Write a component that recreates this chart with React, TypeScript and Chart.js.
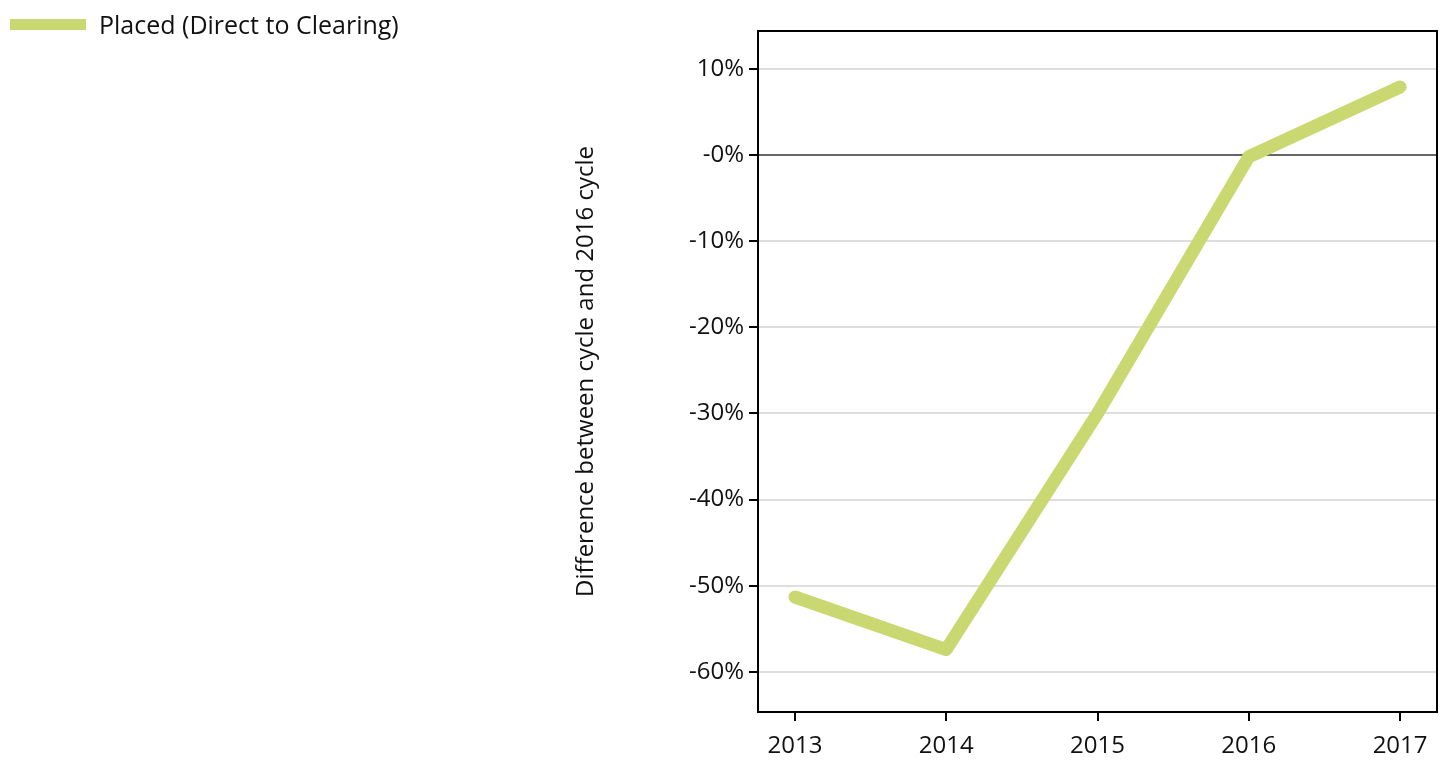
import React, { useEffect, useRef } from "react";
import { Chart, registerables } from "chart.js";
Chart.register(...registerables);

const years = [2013, 2014, 2015, 2016, 2017];
const placedDiff = [-51.3, -57.4, -30.0, -0.2, 7.9];
const yTicks = [10, 0, -10, -20, -30, -40, -50, -60];
const seriesLabel = "Placed (Direct to Clearing)";
const yTitle = "Difference between cycle and 2016 cycle";
const lineColor = "#cad872";
const FONT = "'Open Sans', sans-serif";
const FS = 24;

const boxPlugin = {
  id: "box",
  afterDraw(chart: any) {
    const { ctx, chartArea: a } = chart;
    ctx.save();
    ctx.strokeStyle = "#000";
    ctx.lineWidth = 2;
    ctx.strokeRect(a.left, a.top, a.right - a.left, a.bottom - a.top);
    ctx.restore();
  },
};

export default function App() {
  const ref = useRef<HTMLCanvasElement>(null);
  useEffect(() => {
    const chart = new Chart(ref.current!, {
      type: "line",
      data: {
        datasets: [
          {
            label: seriesLabel,
            data: years.map((y, i) => ({ x: y, y: placedDiff[i] })),
            borderColor: lineColor,
            borderWidth: 13,
            borderCapStyle: "round",
            borderJoinStyle: "round",
            pointRadius: 0,
            tension: 0,
          },
        ],
      },
      plugins: [boxPlugin],
      options: {
        animation: false,
        responsive: false,
        layout: { padding: { left: 572, top: 31, right: 4, bottom: 0 } },
        plugins: { legend: { display: false }, tooltip: { enabled: false } },
        scales: {
          x: {
            type: "linear",
            min: 2012.756,
            max: 2017.244,
            afterBuildTicks: (s: any) => {
              s.ticks = years.map((v) => ({ value: v }));
            },
            afterFit: (s: any) => {
              s.height = 50;
            },
            border: { display: false },
            grid: { drawOnChartArea: false, tickLength: 9, tickColor: "#000", lineWidth: 2 },
            ticks: { color: "#111", font: { family: FONT, size: FS }, padding: 11, callback: (v: any) => String(v) },
          },
          y: {
            min: -64.65,
            max: 14.4,
            afterBuildTicks: (s: any) => {
              s.ticks = yTicks.map((v) => ({ value: v }));
            },
            afterFit: (s: any) => {
              s.width = 186;
            },
            border: { display: false },
            grid: {
              tickLength: 9,
              tickColor: "#000",
              color: (c: any) => (c.tick && c.tick.value === 0 ? "#666" : "#dedede"),
              lineWidth: 2,
            },
            ticks: {
              color: "#111",
              font: { family: FONT, size: FS },
              padding: 5,
              callback: (v: any) => (v === 0 ? "-0%" : v + "%"),
            },
            title: { display: true, text: yTitle, color: "#111", font: { family: FONT, size: FS }, padding: 0 },
          },
        },
      },
    } as any);
    return () => chart.destroy();
  }, []);
  return (
    <div style={{ position: "absolute", left: 0, top: 0, width: 1441, height: 762, background: "#fff" }}>
      <canvas ref={ref} width={1441} height={762} style={{ position: "absolute", left: 0, top: 0 }} />
      <div style={{ position: "absolute", left: 10, top: 7, display: "flex", alignItems: "center", fontFamily: FONT, fontSize: 25, color: "#111" }}>
        <span style={{ display: "inline-block", width: 76, height: 11, background: lineColor, marginRight: 13 }} />
        {seriesLabel}
      </div>
    </div>
  );
}
